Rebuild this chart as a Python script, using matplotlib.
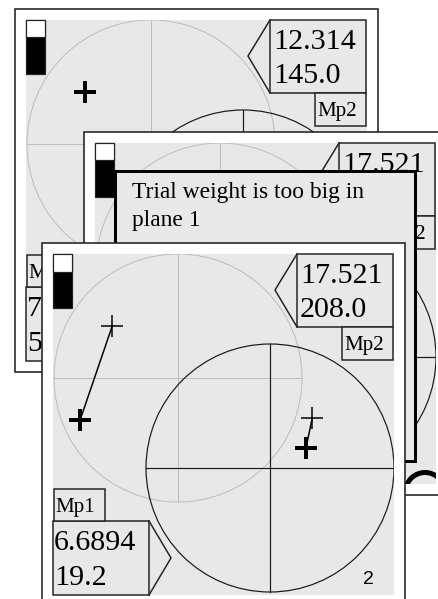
import matplotlib
matplotlib.use("Agg")
import matplotlib.pyplot as plt
from matplotlib.patches import Rectangle, Circle, Polygon
from matplotlib.transforms import Affine2D

# ---------------- data ----------------
upper_value_1 = ["12.314", "17.521", "17.521"]
upper_value_2 = ["145.0", "208.0", "208.0"]
upper_label = ["Mp2", "Mp2", "Mp2"]
lower_value_1 = ["7.3105", "7.3105", "6.6894"]
lower_value_2 = ["54.7", "54.7", "19.2"]
lower_label = ["Mp1", "Mp1", "Mp1"]
gauge_level = [0.68, 0.68, 0.67]          # black (filled) fraction of the gauge
panel_number = ["", "", "2"]
dialog_lines = ["Trial weight is too big in", "plane 1"]

# vibration vectors, in units of the circle radius (x right, y up)
plane1_first = (-0.53, 0.42)
plane1_trial = (-0.79, -0.34)
plane2_first = (0.34, 0.40)
plane2_trial = (0.29, 0.16)
show_trial = [False, True, True]

# ---------------- layout (pixels) ----------------
W, H = 438, 599
DPI = 100
PT = 72.0 / DPI
panel_origin = [(15, 9), (84, 132), (42, 243)]
# texts fully covered by the dialog / front panel are not drawn
draw_upper_value_2 = [True, False, True]
draw_lower_box = [True, False, True]
FRAME = 363
GRAY0, GRAY1 = 11, 352
C1 = (136, 135)     # plane-1 circle centre (panel-local px)
C2 = (228, 225)     # plane-2 circle centre
R = 124
GRAY = "#e8e8e8"
EDGE = "#222222"
SERIF = "Liberation Serif"

fig = plt.figure(figsize=(W / DPI, H / DPI), dpi=DPI)
ax = fig.add_axes([0, 0, 1, 1])
ax.set_xlim(0, W)
ax.set_ylim(H, 0)
ax.axis("off")


def rect(x0, y0, x1, y1, z, fc=GRAY, ec=EDGE, lw=1.5):
    p = Rectangle((x0, y0), x1 - x0, y1 - y0, facecolor=fc, edgecolor=ec,
                  linewidth=lw * PT, zorder=z)
    ax.add_patch(p)
    return p


for i, (ox, oy) in enumerate(panel_origin):
    z = 10 * (i + 1)
    rect(ox, oy, ox + FRAME, oy + FRAME, z, fc="white", ec=EDGE, lw=1.6)
    gray = Rectangle((ox + GRAY0, oy + GRAY0), GRAY1 - GRAY0, GRAY1 - GRAY0,
                     facecolor=GRAY, edgecolor="none", zorder=z + 0.1)
    ax.add_patch(gray)

    t1 = Affine2D().scale(R, -R).translate(ox + C1[0], oy + C1[1]) + ax.transData
    t2 = Affine2D().scale(R, -R).translate(ox + C2[0], oy + C2[1]) + ax.transData

    # plane circles with diameters
    for tr, col, lw in [(t1, "#bdbdbd", 1.0), (t2, "#1a1a1a", 1.2)]:
        c = Circle((0, 0), 1, transform=tr, facecolor="none", edgecolor=col,
                   linewidth=lw * PT, zorder=z + 0.2)
        ax.add_patch(c)
        c.set_clip_path(gray)
        for xs, ys in [([-1, 1], [0, 0]), ([0, 0], [-1, 1])]:
            ln, = ax.plot(xs, ys, color=col, lw=lw * PT, transform=tr, zorder=z + 0.2)
            ln.set_clip_path(gray)

    # gauge
    gx, gy, gw, gh = ox + GRAY0, oy + GRAY0, 19, 54
    rect(gx, gy, gx + gw, gy + gh, z + 0.3, fc="black", ec=EDGE, lw=1.2)
    rect(gx, gy, gx + gw, gy + gh * (1 - gauge_level[i]), z + 0.31, fc="white", ec=EDGE, lw=1.2)

    # upper value box with pointer
    L, T, Rr, B = ox + 255, oy + 11, ox + 351, oy + 84
    tip = (ox + 233, oy + 47)
    ax.add_patch(Polygon([(L, T), (Rr, T), (Rr, B), (L, B), tip], closed=True,
                         facecolor=GRAY, edgecolor="none", zorder=z + 0.3))
    rect(L, T, Rr, B, z + 0.32)
    ax.plot([L, tip[0], L], [T, tip[1], B], color=EDGE, lw=1.5 * PT, zorder=z + 0.33)
    ax.text(ox + 258, oy + 40, upper_value_1[i], family=SERIF, fontsize=30 * PT,
            va="baseline", ha="left", zorder=z + 0.4)
    if draw_upper_value_2[i]:
        ax.text(ox + 258, oy + 74, upper_value_2[i], family=SERIF, fontsize=30 * PT,
                va="baseline", ha="left", zorder=z + 0.4)
    rect(ox + 300, oy + 84, ox + 351, oy + 117, z + 0.32)
    ax.text(ox + 302, oy + 107, upper_label[i], family=SERIF, fontsize=21 * PT,
            va="baseline", ha="left", zorder=z + 0.4)

    # lower value box with pointer
    if draw_lower_box[i]:
        L, T, Rr, B = ox + 11, oy + 278, ox + 107, oy + 352
        tip = (ox + 129, oy + 315)
        ax.add_patch(Polygon([(L, T), (Rr, T), tip, (Rr, B), (L, B)], closed=True,
                             facecolor=GRAY, edgecolor="none", zorder=z + 0.3))
        rect(L, T, Rr, B, z + 0.32)
        ax.plot([Rr, tip[0], Rr], [T, tip[1], B], color=EDGE, lw=1.5 * PT, zorder=z + 0.33)
        ax.text(ox + 12, oy + 307, lower_value_1[i], family=SERIF, fontsize=30 * PT,
                va="baseline", ha="left", zorder=z + 0.4)
        ax.text(ox + 12, oy + 342, lower_value_2[i], family=SERIF, fontsize=30 * PT,
                va="baseline", ha="left", zorder=z + 0.4)
        rect(ox + 12, oy + 246, ox + 63, oy + 278, z + 0.32)
        ax.text(ox + 13, oy + 269, lower_label[i], family=SERIF, fontsize=21 * PT,
                va="baseline", ha="left", zorder=z + 0.4)

    if panel_number[i]:
        ax.text(ox + 321, oy + 341, panel_number[i], family="Liberation Sans",
                fontsize=19.5 * PT, va="baseline", ha="left", zorder=z + 0.4)

    # vectors / crosses
    if show_trial[i]:
        for tr, p0, p1 in [(t1, plane1_first, plane1_trial), (t2, plane2_first, plane2_trial)]:
            ax.plot([p0[0], p1[0]], [p0[1], p1[1]], color="black", lw=1.5 * PT,
                    transform=tr, zorder=z + 0.5)
            ax.plot([p0[0]], [p0[1]], marker="+", ms=23 * PT, mew=1.5 * PT,
                    color="black", transform=tr, zorder=z + 0.55)
            ax.plot([p1[0]], [p1[1]], marker="+", ms=23 * PT, mew=4 * PT,
                    color="black", transform=tr, zorder=z + 0.56)
    else:
        ax.plot([plane1_first[0]], [plane1_first[1]], marker="+", ms=23 * PT,
                mew=4 * PT, color="black", transform=t1, zorder=z + 0.56)

    if i == 1:
        ring = Circle((ox + 341, oy + 360), 19.5, facecolor="none", edgecolor="black",
                      linewidth=5 * PT, zorder=z + 0.6)
        ax.add_patch(ring)
        ring.set_clip_path(gray)

# message dialog (between middle and front panels)
rect(115, 171, 415, 461, 25, fc=GRAY, ec="black", lw=3)
ax.text(132, 198, dialog_lines[0], family=SERIF, fontsize=23.5 * PT,
        va="baseline", ha="left", zorder=25.5)
ax.text(132, 226, dialog_lines[1], family=SERIF, fontsize=23.5 * PT,
        va="baseline", ha="left", zorder=25.5)

fig.savefig("out.png", dpi=DPI)
